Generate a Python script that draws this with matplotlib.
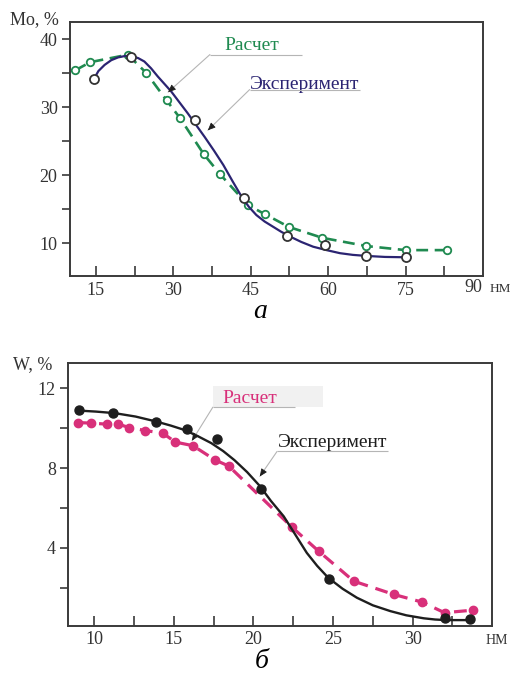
import matplotlib
matplotlib.use("Agg")
import matplotlib.pyplot as plt
from matplotlib.patches import Rectangle
from matplotlib.ticker import FixedLocator, FuncFormatter

plt.rcParams['font.family'] = ['Liberation Serif', 'DejaVu Serif']

# ---- panel a: Mo, % vs particle size, nm ----
a_calc_x = [11.0, 13.9, 21.2, 24.8, 28.7, 31.3, 35.9, 39.0, 44.5, 47.7, 52.4, 58.9, 67.4, 75.0, 83.0]
a_calc_y = [35.4, 36.6, 37.7, 35.0, 31.0, 28.4, 23.1, 20.2, 15.6, 14.3, 12.4, 10.8, 9.6, 9.0, 9.0]

a_exp_x = [14.7, 21.9, 34.2, 43.7, 52.1, 59.4, 67.4, 75.0]
a_exp_y = [34.1, 37.4, 28.1, 16.6, 11.1, 9.8, 8.2, 7.95]

a_exp_curve_x = [14.6, 15.5, 16.7, 18.0, 19.3, 20.6, 21.9, 23.2, 24.4, 25.7, 27.0, 28.3, 29.6,
                 31.2, 32.8, 34.4, 36.1, 37.9, 39.7, 41.5, 43.2, 44.6, 46.1, 47.7, 49.3, 50.9,
                 52.6, 54.8, 57.1, 59.7, 62.3, 64.8, 67.4, 71.0, 75.0]
a_exp_curve_y = [34.1, 35.3, 36.2, 36.9, 37.3, 37.5, 37.5, 37.2, 36.7, 35.7, 34.5, 33.4, 32.3,
                 30.7, 29.1, 27.4, 25.6, 23.6, 21.5, 19.1, 16.9, 15.4, 14.15, 13.2, 12.45, 11.7,
                 11.0, 10.2, 9.5, 9.0, 8.55, 8.3, 8.15, 8.0, 7.95]

# ---- panel b: W, % vs particle size, nm ----
b_calc_x = [9.0, 9.8, 10.8, 11.5, 12.2, 13.2, 14.3, 15.1, 16.2, 17.6, 18.45,
            22.4, 24.1, 26.3, 28.8, 30.6, 32.0, 33.8]
b_calc_y = [10.28, 10.25, 10.2, 10.2, 10.03, 9.88, 9.75, 9.3, 9.12, 8.4, 8.1,
            5.05, 3.83, 2.33, 1.67, 1.28, 0.75, 0.88]

b_exp_x = [9.04, 11.2, 13.9, 15.8, 17.7, 20.5, 24.75, 32.0, 33.6]
b_exp_y = [10.9, 10.75, 10.33, 9.95, 9.45, 6.97, 2.45, 0.5, 0.45]

b_exp_curve_x = [9.0, 10.1, 11.3, 12.6, 13.9, 14.8, 15.7, 16.5, 17.35, 18.1, 18.8, 19.6, 20.4,
                 21.1, 21.9, 22.6, 23.35, 24.0, 24.7, 25.6, 26.5, 27.5, 28.6, 29.6, 30.7,
                 31.4, 32.1, 33.0, 33.8]
b_exp_curve_y = [10.88, 10.83, 10.75, 10.58, 10.33, 10.13, 9.9, 9.6, 9.25, 8.85, 8.4, 7.8, 7.1,
                 6.35, 5.58, 4.7, 3.75, 3.1, 2.5, 1.95, 1.5, 1.12, 0.83, 0.62, 0.47,
                 0.41, 0.38, 0.38, 0.38]

GREEN = '#1f8a50'
NAVY = '#2b2472'
PINK = '#d8307a'
BLACK = '#1e1e1e'
LEADER = '#b5b5b5'
TXT = '#333333'

fig = plt.figure(figsize=(5.13, 6.73), dpi=100)
ax1 = fig.add_axes([0.1365, 0.5899, 0.805, 0.3774])
ax2 = fig.add_axes([0.1331, 0.0703, 0.8265, 0.3899])


def style_axes(ax, xticks, xlabeled, yticks, ylabeled):
    for sp in ax.spines.values():
        sp.set_linewidth(1.4)
        sp.set_color('#3a3a3a')
    ax.xaxis.set_major_locator(FixedLocator(xticks))
    ax.yaxis.set_major_locator(FixedLocator(yticks))
    ax.xaxis.set_major_formatter(FuncFormatter(
        lambda v, p: f"{v:g}" if any(abs(v - t) < 1e-6 for t in xlabeled) else ""))
    ax.yaxis.set_major_formatter(FuncFormatter(
        lambda v, p: f"{v:g}" if any(abs(v - t) < 1e-6 for t in ylabeled) else ""))
    ax.tick_params(axis='x', direction='in', length=7, width=1.2, color='#3a3a3a',
                   labelsize=13, pad=4, labelcolor=TXT)
    ax.tick_params(axis='y', direction='out', length=6, width=1.2, color='#3a3a3a',
                   labelsize=13, pad=3, labelcolor=TXT)


def leader(ax, start, end, underline_to):
    ax.plot([start[0], underline_to], [start[1], start[1]], color=LEADER, lw=0.8,
            solid_capstyle='butt', zorder=5)
    ax.annotate('', xy=end, xytext=start,
                arrowprops=dict(arrowstyle='-', color=LEADER, lw=0.8, shrinkA=0, shrinkB=0),
                zorder=5)
    # small dark arrow head at the end of the leader
    dx = end[0] - start[0]
    dy = end[1] - start[1]
    ax.annotate('', xy=end, xytext=(end[0] - dx * 0.12, end[1] - dy * 0.12),
                arrowprops=dict(arrowstyle='-|>,head_length=0.45,head_width=0.2',
                                color=BLACK, lw=0.6, shrinkA=0, shrinkB=0),
                zorder=6)


# ---------------- panel a ----------------
ax1.plot(a_calc_x, a_calc_y, color=GREEN, lw=1.9, ls=(0, (4.5, 2.5)), marker='o',
         markersize=5.4, markerfacecolor='white', markeredgecolor=GREEN, markeredgewidth=1.3,
         zorder=3)
ax1.plot(a_exp_curve_x, a_exp_curve_y, color=NAVY, lw=1.6, zorder=4)
ax1.plot(a_exp_x, a_exp_y, ls='none', marker='o', markersize=6.5, markerfacecolor='white',
         markeredgecolor='#333333', markeredgewidth=1.3, zorder=5)

ax1.set_xlim(10, 90)
ax1.set_ylim(5.2, 42.5)
style_axes(ax1, [15, 22.5, 30, 37.5, 45, 52.5, 60, 67.5, 75, 82.5], [15, 30, 45, 60, 75],
           [10, 15, 20, 25, 30, 35, 40], [10, 20, 30, 40])

ax1.text(45.2, 39.1, 'Расчет', color=GREEN, fontsize=14, ha='center', va='center')
leader(ax1, (37.1, 37.72), (29.0, 32.2), 54.9)
ax1.text(55.5, 33.3, 'Эксперимент', color=NAVY, fontsize=14, ha='center', va='center')
leader(ax1, (44.8, 32.58), (36.7, 26.6), 66.1)

fig.text(473 / 513, 1 - 288 / 673, '90', fontsize=13, color=TXT, ha='center', va='center')
fig.text(500 / 513, 1 - 289 / 673, 'НМ', fontsize=9.5, color=TXT, ha='center', va='center')
fig.text(10 / 513, 1 - 20 / 673, 'Mo, %', fontsize=13, color=TXT, ha='left', va='center')
fig.text(260 / 513, 1 - 311 / 673, 'а', fontsize=20, style='italic', ha='center', va='center')

# ---------------- panel b ----------------
ax2.plot(b_calc_x, b_calc_y, color=PINK, lw=2.3, ls=(0, (4, 2.5)), marker='o',
         markersize=6, markerfacecolor=PINK, markeredgecolor=PINK, zorder=3)
ax2.plot(b_exp_curve_x, b_exp_curve_y, color=BLACK, lw=1.7, zorder=4)
ax2.plot(b_exp_x, b_exp_y, ls='none', marker='o', markersize=6.5, markerfacecolor=BLACK,
         markeredgecolor=BLACK, zorder=5)

ax2.set_xlim(8.37, 35.0)
ax2.set_ylim(0.1, 13.25)
style_axes(ax2, [10, 12.5, 15, 17.5, 20, 22.5, 25, 27.5, 30, 32.5], [10, 15, 20, 25, 30],
           [2, 4, 6, 8, 10, 12], [4, 8, 12])

# light grey label background behind "Расчет"
ax2.add_patch(Rectangle((17.45, 11.07), 6.9, 1.05, facecolor='#f1f1f1', edgecolor='none',
                        zorder=1))
ax2.text(19.79, 11.5, 'Расчет', color=PINK, fontsize=14, ha='center', va='center', zorder=2)
leader(ax2, (17.45, 11.05), (16.14, 9.37), 22.6)
ax2.text(24.95, 9.3, 'Эксперимент', color=BLACK, fontsize=14, ha='center', va='center')
leader(ax2, (21.48, 8.83), (20.4, 7.58), 28.45)

fig.text(497 / 513, 1 - 641 / 673, 'НМ', fontsize=10, color=TXT, ha='center', va='center')
fig.text(13 / 513, 1 - 365 / 673, 'W, %', fontsize=13, color=TXT, ha='left', va='center')
fig.text(262 / 513, 1 - 662 / 673, 'б', fontsize=20, style='italic', ha='center', va='center')

fig.savefig('out.png', dpi=100)
plt.close(fig)
